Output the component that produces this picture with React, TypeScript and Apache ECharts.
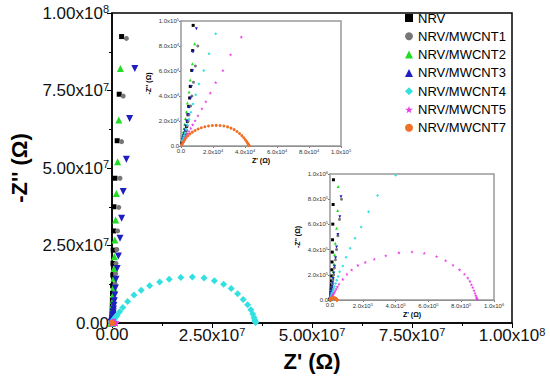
import React, { useEffect, useRef } from 'react';
import * as echarts from 'echarts';

// ---------- data (Z' , -Z'') in Ohm ----------
const seriesNames = ['NRV', 'NRV/MWCNT1', 'NRV/MWCNT2', 'NRV/MWCNT3', 'NRV/MWCNT4', 'NRV/MWCNT5', 'NRV/MWCNT7'];

const nrv = [
  [0.6e3, 2.5e3], [0.8e3, 3.1e3], [1.0e3, 3.9e3], [1.3e3, 4.9e3], [1.6e3, 6.2e3], [2.0e3, 7.8e3], [2.5e3, 9.8e3],
  [3.0e3, 12.4e3], [3.5e3, 15.6e3], [4.0e3, 19.7e3], [4.4e3, 25.0e3], [4.8e3, 31.7e3], [5.4e3, 38.4e3], [5.8e3, 47.7e3],
  [6.7e3, 60.5e3], [7.3e3, 76.3e3], [7.6e3, 96.5e3], [8.5e3, 121e3], [9.5e3, 152e3], [10.5e3, 191e3], [11.5e3, 240e3],
  [12.5e3, 302e3], [14e3, 380e3], [15.5e3, 478e3], [17e3, 602e3], [19e3, 758e3], [21e3, 954e3], [25e3, 1.2e6],
  [30e3, 1.51e6], [35e3, 1.9e6], [42e3, 2.39e6], [50e3, 3.0e6], [60e3, 3.8e6], [72e3, 4.8e6], [85e3, 6.0e6],
  [100e3, 7.6e6], [120e3, 9.5e6], [150e3, 12.0e6], [200e3, 15.5e6], [250e3, 19.2e6], [300e3, 23.5e6], [400e3, 29.7e6],
  [500e3, 37.5e6], [740e3, 46.7e6], [1.3e6, 58.8e6], [1.8e6, 73.8e6], [2.4e6, 92.4e6],
];

const mwcnt1 = [
  [1.0e3, 4.0e3], [1.3e3, 5.0e3], [1.7e3, 6.3e3], [2.1e3, 8.0e3], [2.6e3, 10e3], [3.2e3, 12.7e3], [3.8e3, 16e3],
  [4.5e3, 20e3], [5.0e3, 25e3], [6.0e3, 32e3], [6.8e3, 40e3], [7.8e3, 51e3], [9.0e3, 64e3], [10.5e3, 80e3],
  [12.5e3, 101e3], [15e3, 128e3], [18e3, 160e3], [22e3, 200e3], [27e3, 255e3], [33e3, 320e3], [40e3, 400e3],
  [48e3, 510e3], [58e3, 640e3], [70e3, 800e3], [110e3, 1.26e6], [140e3, 1.6e6], [170e3, 2.0e6], [210e3, 2.5e6],
  [260e3, 3.2e6], [320e3, 4.0e6], [390e3, 5.0e6], [470e3, 6.3e6], [560e3, 8.0e6], [660e3, 10.0e6], [780e3, 12.6e6],
  [900e3, 15.9e6], [1.0e6, 19.2e6], [1.2e6, 23.7e6], [1.4e6, 29.7e6], [1.7e6, 37.3e6], [2.0e6, 46.7e6],
  [2.4e6, 58.5e6], [2.8e6, 73.2e6], [3.6e6, 91.8e6],
];

const mwcnt2 = [
  [0.6e3, 4.5e3], [0.8e3, 5.6e3], [1.0e3, 7.1e3], [1.2e3, 8.9e3], [1.5e3, 11.2e3], [1.9e3, 14e3], [2.3e3, 17.5e3],
  [2.8e3, 22e3], [3.4e3, 27.5e3], [4.0e3, 34.4e3], [5.0e3, 43.2e3], [5.8e3, 52.8e3], [7.1e3, 65.9e3], [8.5e3, 81.9e3],
  [12e3, 114e3], [14.5e3, 143e3], [17e3, 180e3], [20e3, 226e3], [24e3, 285e3], [28e3, 360e3], [32e3, 450e3],
  [40e3, 570e3], [47e3, 710e3], [50e3, 900e3], [61e3, 1.17e6], [72e3, 1.47e6], [85e3, 1.85e6], [100e3, 2.3e6],
  [120e3, 2.9e6], [150e3, 3.7e6], [180e3, 4.6e6], [220e3, 5.8e6], [270e3, 7.3e6], [320e3, 9.2e6], [380e3, 11.5e6],
  [450e3, 14.4e6], [500e3, 17.6e6], [600e3, 21.4e6], [700e3, 26.8e6], [900e3, 33.2e6], [1.1e6, 41.8e6],
  [1.4e6, 52e6], [1.7e6, 65.5e6], [2.1e6, 82.1e6],
];

const mwcnt3 = [
  [0.9e3, 5.2e3], [1.1e3, 6.5e3], [1.4e3, 8.2e3], [1.8e3, 10.2e3], [2.3e3, 12.8e3], [2.8e3, 16e3], [3.5e3, 20e3],
  [4.2e3, 25e3], [5.0e3, 31e3], [6.0e3, 38.4e3], [6.5e3, 47.7e3], [7.1e3, 60.3e3], [7.5e3, 75.2e3], [9.6e3, 93.9e3],
  [12.5e3, 110e3], [15.5e3, 137e3], [19e3, 171e3], [23e3, 214e3], [28e3, 268e3], [34e3, 335e3], [40e3, 420e3],
  [48e3, 520e3], [60e3, 660e3], [67e3, 820e3], [100e3, 1.03e6], [130e3, 1.3e6], [160e3, 1.6e6], [200e3, 2.3e6],
  [250e3, 2.9e6], [310e3, 3.6e6], [380e3, 4.5e6], [470e3, 5.7e6], [580e3, 7.2e6], [700e3, 9.0e6], [850e3, 11.3e6],
  [1.0e6, 14.1e6], [1.3e6, 17.6e6], [1.6e6, 21.6e6], [2.0e6, 27.3e6], [2.4e6, 33.8e6], [2.8e6, 42.4e6],
  [3.6e6, 52.8e6], [4.4e6, 66e6], [5.7e6, 82.1e6],
];

const mwcnt4 = [
  [1.0e3, 4.2e3], [1.2e3, 5.3e3], [1.6e3, 6.7e3], [2.0e3, 8.5e3], [2.5e3, 10.7e3], [3.2e3, 13.5e3], [4.0e3, 17e3],
  [5.0e3, 21.5e3], [6.2e3, 27e3], [7.5e3, 33.6e3], [9.2e3, 41.1e3], [11.2e3, 49.6e3], [14.2e3, 60.5e3],
  [17.5e3, 73.9e3], [21.7e3, 89.9e3], [27e3, 108e3], [34e3, 130e3], [41e3, 156e3], [50e3, 187e3], [59e3, 225e3],
  [78e3, 270e3], [98e3, 340e3], [123e3, 410e3], [153e3, 490e3], [190e3, 580e3], [235e3, 700e3], [290e3, 830e3],
  [400e3, 990e3], [0.5e6, 1.2e6], [0.65e6, 1.45e6], [0.8e6, 1.75e6], [1.0e6, 2.1e6], [1.3e6, 2.6e6], [1.9e6, 3.6e6],
  [2.7e6, 5.0e6], [3.9e6, 6.9e6], [5.5e6, 9.0e6], [7.3e6, 10.6e6], [9.4e6, 12.0e6], [11.9e6, 13.2e6],
  [14.3e6, 14.1e6], [17.2e6, 14.7e6], [20.1e6, 14.8e6], [23.0e6, 14.5e6], [25.6e6, 13.6e6], [27.9e6, 12.5e6],
  [29.8e6, 11.1e6], [31.4e6, 9.4e6], [32.8e6, 7.6e6], [33.9e6, 5.9e6], [34.7e6, 4.3e6], [35.2e6, 2.9e6],
  [35.5e6, 1.8e6], [35.7e6, 1.0e6], [35.8e6, 0.5e6], [35.9e6, 0.2e6],
];

const mwcnt5 = [
  [1.4e3, 3.4e3], [1.7e3, 4.1e3], [2.0e3, 4.9e3], [2.4e3, 5.9e3], [2.9e3, 7.0e3], [3.5e3, 8.4e3], [4.2e3, 10.0e3],
  [5.0e3, 11.9e3], [6.1e3, 14.2e3], [7.3e3, 17.0e3], [8.8e3, 20.3e3], [10.6e3, 24.3e3], [13.1e3, 29.9e3],
  [15.5e3, 35.5e3], [18.3e3, 42.4e3], [21.7e3, 50.9e3], [26.2e3, 60.5e3], [31e3, 73.1e3], [37.7e3, 87.2e3],
  [45e3, 105e3], [55e3, 126e3], [78e3, 165e3], [103e3, 205e3], [132e3, 239e3], [170e3, 276e3], [215e3, 300e3],
  [270e3, 325e3], [340e3, 352e3], [420e3, 375e3], [500e3, 382e3], [575e3, 372e3], [650e3, 346e3], [705e3, 313e3],
  [750e3, 277e3], [790e3, 240e3], [820e3, 205e3], [840e3, 175e3], [853e3, 149e3], [862e3, 122e3], [870e3, 100e3],
  [878e3, 77e3], [884e3, 55e3], [889e3, 37e3], [893e3, 22e3], [896e3, 12e3], [898e3, 5e3],
];

const mwcnt7 = [
  [0.5e3, 1.0e3], [1.0e3, 2.2e3], [1.6e3, 3.5e3], [2.3e3, 5.0e3], [3.2e3, 6.6e3], [4.3e3, 8.2e3], [5.6e3, 9.7e3],
  [7.1e3, 11.1e3], [8.8e3, 12.4e3], [10.7e3, 13.6e3], [12.7e3, 14.6e3], [14.9e3, 15.4e3], [17.2e3, 16.0e3],
  [19.6e3, 16.4e3], [22e3, 16.5e3], [24.4e3, 16.4e3], [26.8e3, 16.0e3], [29.1e3, 15.3e3], [31.2e3, 14.3e3],
  [33.2e3, 13.1e3], [35e3, 11.6e3], [36.6e3, 10e3], [38e3, 8.3e3], [39.2e3, 6.6e3], [40.2e3, 5.0e3],
  [41e3, 3.6e3], [41.6e3, 2.4e3], [42e3, 1.5e3], [42.3e3, 0.8e3], [42.5e3, 0.4e3], [42.6e3, 0.2e3],
];

// tick labels: [mantissa part, exponent]
const mainTickLabels = [['0.00', ''], ['2.50x10', '7'], ['5.00x10', '7'], ['7.50x10', '7'], ['1.00x10', '8']];
const inset1TickLabels = [['0.0', ''], ['2.0x10', '4'], ['4.0x10', '4'], ['6.0x10', '4'], ['8.0x10', '4'], ['1.0x10', '5']];
const inset2TickLabels = [['0.0', ''], ['2.0x10', '5'], ['4.0x10', '5'], ['6.0x10', '5'], ['8.0x10', '5'], ['1.0x10', '6']];

const allData = [nrv, mwcnt1, mwcnt2, mwcnt3, mwcnt4, mwcnt5, mwcnt7];
const colors = ['#000000', '#777777', '#22dd22', '#1f1fbf', '#33e0e0', '#e63ce6', '#f07028'];
const STAR = 'path://M50,0 L61,35 L98,35 L68,57 L79,91 L50,70 L21,91 L32,57 L2,35 L39,35 Z';
const symbols = ['rect', 'circle', 'triangle', 'triangle', 'diamond', STAR, 'circle'];
const rotations = [0, 0, 0, 180, 0, 0, 0];
const mainSizes = [5, 5, 7, 7, 7, 7, 5];
const insetSizes = [3, 3, 3, 3, 3, 3.5, 3];

const FONT = 'Liberation Sans, Arial, Helvetica, sans-serif';

function fmt(labels: string[][], step: number) {
  return (v: number) => {
    const i = Math.round(v / step);
    const p = labels[i];
    if (!p) return '';
    return p[1] ? `{a|${p[0]}}{s|${p[1]}}` : `{a|${p[0]}}`;
  };
}

function makeAxis(kind: 'x' | 'y', g: number) {
  const main = g === 0;
  const max = g === 0 ? 1e8 : g === 1 ? 1e5 : 1e6;
  const interval = max / (main ? 4 : 5);
  const labels = g === 0 ? mainTickLabels : g === 1 ? inset1TickLabels : inset2TickLabels;
  const fs = main ? 17 : 6;
  const ss = main ? 11 : 4;
  const lineColor = main ? '#000' : '#777';
  return {
    type: 'value',
    gridIndex: g,
    min: 0,
    max,
    interval,
    name: kind === 'x' ? "Z' (Ω)" : "-Z'' (Ω)",
    nameLocation: 'middle',
    nameGap: main ? (kind === 'x' ? 27 : 82) : (kind === 'x' ? 11 : 29),
    nameRotate: kind === 'y' ? 90 : 0,
    nameTextStyle: {
      fontFamily: FONT,
      fontWeight: 'bold',
      fontSize: main ? 22 : 7,
      color: '#000',
    },
    axisLine: { show: true, onZero: false, lineStyle: { color: lineColor, width: main ? 1.5 : 1 } },
    axisTick: { show: true, inside: false, length: main ? 5 : 2, lineStyle: { color: lineColor, width: 1 } },
    minorTick: { show: main, splitNumber: 2, length: 3, lineStyle: { color: lineColor, width: 1 } },
    splitLine: { show: false },
    axisLabel: {
      formatter: fmt(labels, interval),
      margin: main ? 3 : 2,
      color: main ? '#111' : '#333',
      fontFamily: FONT,
      rich: {
        a: { fontSize: fs, fontFamily: FONT, color: main ? '#111' : '#333' },
        s: { fontSize: ss, fontFamily: FONT, color: main ? '#111' : '#333', verticalAlign: 'top', padding: [0, 0, main ? 8 : 3, 0] },
      },
    },
  };
}

export default function App() {
  const ref = useRef<HTMLDivElement>(null);
  useEffect(() => {
    if (!ref.current) return;
    const chart = echarts.init(ref.current, undefined, { renderer: 'svg' });
    const series: any[] = [];
    for (let g = 0; g < 3; g++) {
      for (let i = 0; i < seriesNames.length; i++) {
        series.push({
          type: 'scatter',
          name: seriesNames[i],
          xAxisIndex: g,
          yAxisIndex: g,
          data: allData[i],
          symbol: symbols[i],
          symbolRotate: rotations[i],
          symbolSize: g === 0 ? mainSizes[i] : insetSizes[i],
          itemStyle: { color: colors[i], opacity: 1 },
          clip: true,
          z: g === 0 ? 2 : 5,
          emphasis: { disabled: true },
        });
      }
    }
    chart.setOption({
      animation: false,
      backgroundColor: '#fff',
      textStyle: { fontFamily: FONT },
      grid: [
        { left: 107, top: 13, width: 405, height: 310, show: true, borderColor: '#000', borderWidth: 1.5, backgroundColor: 'transparent' },
        { left: 181, top: 21, width: 160, height: 125, show: true, borderColor: '#999', borderWidth: 1.5, backgroundColor: '#fff', z: 3 },
        { left: 330, top: 174, width: 164, height: 126, show: true, borderColor: '#999', borderWidth: 1.5, backgroundColor: '#fff', z: 3 },
      ],
      xAxis: [makeAxis('x', 0), makeAxis('x', 1), makeAxis('x', 2)],
      yAxis: [makeAxis('y', 0), makeAxis('y', 1), makeAxis('y', 2)],
      legend: {
        orient: 'vertical',
        left: 400,
        top: 6,
        itemWidth: 8,
        itemHeight: 8,
        itemGap: 4.3,
        data: seriesNames,
        selectedMode: false,
        textStyle: { fontFamily: FONT, fontSize: 13, color: '#000', lineHeight: 14 },
      },
      series,
    });
    return () => chart.dispose();
  }, []);
  return (
    <div
      ref={ref}
      style={{ position: 'fixed', left: 0, top: 0, width: 550, height: 377, background: '#fff' }}
    />
  );
}
